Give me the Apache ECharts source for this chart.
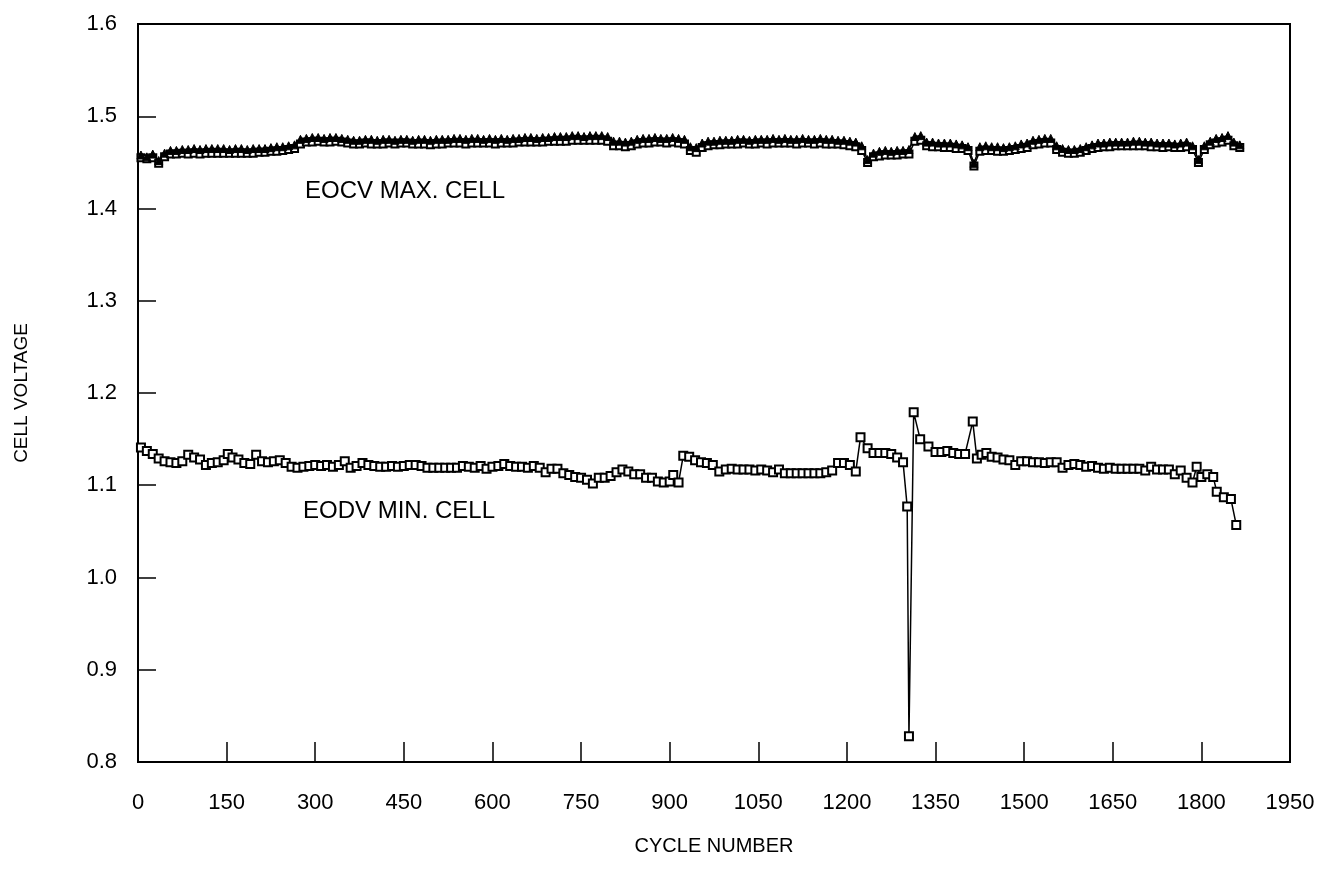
<!DOCTYPE html>
<html>
<head>
<meta charset="utf-8">
<title>Cell voltage vs cycle number</title>
<script src="https://cdn.jsdelivr.net/npm/echarts@6/dist/echarts.min.js"></script>
<style>
  html, body { margin: 0; padding: 0; background: #fff; }
  #chart { width: 1320px; height: 878px; }
</style>
</head>
<body>
<div id="chart"></div>
<script>
// 电压-循环次数图
// top band: EOCV (triangles = max cell, squares just under it)
// bottom: EODV min cell (squares)

var xTicks = [0, 150, 300, 450, 600, 750, 900, 1050, 1200, 1350, 1500, 1650, 1800, 1950];
var yTicks = [0.8, 0.9, 1.0, 1.1, 1.2, 1.3, 1.4, 1.5, 1.6];

var topCycles = [
    5, 15, 25, 35, 45, 55, 65, 75, 85, 95,
    105, 115, 125, 135, 145, 155, 165, 175, 185, 195,
    205, 215, 225, 235, 245, 255, 265, 275, 285, 295,
    305, 315, 325, 335, 345, 355, 365, 375, 385, 395,
    405, 415, 425, 435, 445, 455, 465, 475, 485, 495,
    505, 515, 525, 535, 545, 555, 565, 575, 585, 595,
    605, 615, 625, 635, 645, 655, 665, 675, 685, 695,
    705, 715, 725, 735, 745, 755, 765, 775, 785, 795,
    805, 815, 825, 835, 845, 855, 865, 875, 885, 895,
    905, 915, 925, 935, 945, 955, 965, 975, 985, 995,
    1005, 1015, 1025, 1035, 1045, 1055, 1065, 1075, 1085, 1095,
    1105, 1115, 1125, 1135, 1145, 1155, 1165, 1175, 1185, 1195,
    1205, 1215, 1225, 1235, 1245, 1255, 1265, 1275, 1285, 1295,
    1305, 1315, 1325, 1335, 1345, 1355, 1365, 1375, 1385, 1395,
    1405, 1415, 1425, 1435, 1445, 1455, 1465, 1475, 1485, 1495,
    1505, 1515, 1525, 1535, 1545, 1555, 1565, 1575, 1585, 1595,
    1605, 1615, 1625, 1635, 1645, 1655, 1665, 1675, 1685, 1695,
    1705, 1715, 1725, 1735, 1745, 1755, 1765, 1775, 1785, 1795,
    1805, 1815, 1825, 1835, 1845, 1855, 1865
];

// EOCV max cell (triangles)
var eocvMax = [
    1.458, 1.456, 1.459, 1.452, 1.460, 1.463, 1.463, 1.464, 1.464, 1.465,
    1.464, 1.465, 1.465, 1.465, 1.465, 1.464, 1.465, 1.465, 1.464, 1.465,
    1.465, 1.465, 1.466, 1.467, 1.467, 1.468, 1.469, 1.475, 1.476, 1.477,
    1.477, 1.476, 1.477, 1.477, 1.476, 1.475, 1.474, 1.474, 1.475, 1.475,
    1.474, 1.475, 1.475, 1.474, 1.475, 1.475, 1.474, 1.475, 1.475, 1.474,
    1.475, 1.475, 1.475, 1.476, 1.476, 1.475, 1.476, 1.476, 1.475, 1.476,
    1.475, 1.476, 1.475, 1.476, 1.476, 1.477, 1.477, 1.476, 1.477, 1.477,
    1.478, 1.478, 1.478, 1.479, 1.479, 1.478, 1.479, 1.479, 1.479, 1.478,
    1.473, 1.473, 1.472, 1.473, 1.475, 1.476, 1.476, 1.477, 1.476, 1.476,
    1.477, 1.476, 1.475, 1.467, 1.466, 1.471, 1.473, 1.473, 1.474, 1.474,
    1.474, 1.475, 1.475, 1.474, 1.475, 1.475, 1.475, 1.476, 1.475, 1.476,
    1.475, 1.475, 1.476, 1.475, 1.475, 1.476, 1.475, 1.475, 1.474, 1.474,
    1.473, 1.472, 1.468, 1.453, 1.460, 1.462, 1.463, 1.462, 1.463, 1.463,
    1.464, 1.478, 1.479, 1.472, 1.472, 1.471, 1.471, 1.471, 1.470, 1.469,
    1.467, 1.449, 1.467, 1.468, 1.467, 1.467, 1.466, 1.467, 1.468, 1.470,
    1.471, 1.474, 1.475, 1.476, 1.476, 1.468, 1.465, 1.464, 1.464, 1.465,
    1.467, 1.469, 1.471, 1.471, 1.472, 1.472, 1.472, 1.472, 1.473, 1.473,
    1.472, 1.472, 1.471, 1.471, 1.471, 1.470, 1.471, 1.472, 1.468, 1.453,
    1.468, 1.473, 1.476, 1.477, 1.479, 1.472, 1.469
];

// EOCV squares drawn just under the triangles
var eocvLow = [
    1.455, 1.454, 1.455, 1.449, 1.456, 1.459, 1.459, 1.460, 1.459, 1.460,
    1.459, 1.460, 1.460, 1.460, 1.460, 1.460, 1.460, 1.460, 1.460, 1.460,
    1.461, 1.461, 1.462, 1.462, 1.463, 1.464, 1.465, 1.470, 1.472, 1.472,
    1.473, 1.472, 1.472, 1.473, 1.472, 1.471, 1.470, 1.470, 1.471, 1.470,
    1.470, 1.470, 1.471, 1.470, 1.471, 1.471, 1.470, 1.470, 1.470, 1.469,
    1.470, 1.470, 1.471, 1.471, 1.471, 1.470, 1.471, 1.471, 1.471, 1.471,
    1.470, 1.471, 1.471, 1.471, 1.472, 1.472, 1.472, 1.472, 1.472, 1.473,
    1.473, 1.473, 1.473, 1.474, 1.474, 1.474, 1.474, 1.474, 1.474, 1.473,
    1.468, 1.468, 1.467, 1.468, 1.470, 1.471, 1.471, 1.472, 1.472, 1.471,
    1.472, 1.471, 1.470, 1.463, 1.461, 1.466, 1.468, 1.469, 1.469, 1.470,
    1.470, 1.470, 1.471, 1.470, 1.470, 1.471, 1.470, 1.471, 1.471, 1.471,
    1.471, 1.470, 1.471, 1.471, 1.470, 1.471, 1.470, 1.470, 1.470, 1.469,
    1.468, 1.467, 1.463, 1.450, 1.456, 1.457, 1.458, 1.458, 1.458, 1.459,
    1.459, 1.473, 1.474, 1.468, 1.467, 1.467, 1.466, 1.466, 1.465, 1.465,
    1.463, 1.446, 1.462, 1.463, 1.463, 1.462, 1.462, 1.463, 1.464, 1.465,
    1.466, 1.469, 1.470, 1.471, 1.471, 1.464, 1.461, 1.460, 1.460, 1.461,
    1.463, 1.465, 1.466, 1.467, 1.467, 1.468, 1.468, 1.468, 1.468, 1.468,
    1.468, 1.467, 1.467, 1.466, 1.467, 1.466, 1.466, 1.467, 1.464, 1.450,
    1.464, 1.469, 1.471, 1.472, 1.474, 1.468, 1.466
];

// EODV min cell
var minCycles = [
    5, 15, 25, 35, 45, 55, 65, 75, 85, 95,
    105, 115, 125, 135, 145, 152, 160, 170, 180, 190,
    200, 210, 220, 230, 240, 250, 260, 270, 280, 290,
    300, 310, 320, 330, 340, 350, 360, 370, 380, 390,
    400, 410, 420, 430, 440, 450, 460, 470, 480, 490,
    500, 510, 520, 530, 540, 550, 560, 570, 580, 590,
    600, 610, 620, 630, 640, 650, 660, 670, 680, 690,
    700, 710, 720, 730, 740, 750, 760, 770, 780, 790,
    800, 810, 820, 830, 840, 850, 860, 870, 880, 890,
    900, 906, 915, 923, 933, 943, 953, 963, 973, 984,
    995, 1005, 1015, 1025, 1035, 1045, 1055, 1065, 1075, 1085,
    1095, 1105, 1115, 1125, 1135, 1145, 1155, 1165, 1175, 1185,
    1195, 1205, 1215, 1223, 1235, 1245, 1255, 1265, 1275, 1285,
    1295, 1302, 1305, 1313, 1324, 1338, 1350, 1360, 1370, 1380,
    1390, 1400, 1413, 1420, 1428, 1436, 1445, 1455, 1465, 1475,
    1485, 1495, 1505, 1515, 1525, 1535, 1545, 1555, 1565, 1575,
    1585, 1595, 1605, 1615, 1625, 1635, 1645, 1655, 1665, 1675,
    1685, 1695, 1705, 1715, 1725, 1735, 1745, 1755, 1765, 1775,
    1785, 1792, 1800, 1810, 1820, 1826, 1838, 1850, 1859
];
var minVolts = [
    1.141, 1.137, 1.134, 1.129, 1.126, 1.125, 1.124, 1.126, 1.133, 1.130,
    1.128, 1.122, 1.124, 1.125, 1.127, 1.134, 1.130, 1.128, 1.124, 1.123,
    1.133, 1.126, 1.125, 1.126, 1.127, 1.124, 1.120, 1.119, 1.120, 1.121,
    1.122, 1.121, 1.122, 1.120, 1.122, 1.126, 1.119, 1.121, 1.124, 1.122,
    1.121, 1.120, 1.120, 1.121, 1.120, 1.121, 1.122, 1.122, 1.121, 1.119,
    1.119, 1.119, 1.119, 1.119, 1.119, 1.121, 1.120, 1.119, 1.121, 1.118,
    1.120, 1.121, 1.123, 1.121, 1.120, 1.120, 1.119, 1.121, 1.119, 1.114,
    1.118, 1.118, 1.113, 1.111, 1.109, 1.108, 1.106, 1.102, 1.108, 1.108,
    1.110, 1.114, 1.117, 1.115, 1.112, 1.112, 1.108, 1.108, 1.104, 1.103,
    1.104, 1.111, 1.103, 1.132, 1.131, 1.127, 1.125, 1.124, 1.122, 1.115,
    1.117, 1.118, 1.117, 1.117, 1.117, 1.116, 1.117, 1.116, 1.114, 1.117,
    1.113, 1.113, 1.113, 1.113, 1.113, 1.113, 1.113, 1.114, 1.116, 1.124,
    1.124, 1.122, 1.115, 1.152, 1.140, 1.135, 1.135, 1.135, 1.134, 1.130,
    1.125, 1.077, 0.828, 1.179, 1.150, 1.142, 1.136, 1.136, 1.137, 1.135,
    1.134, 1.134, 1.169, 1.129, 1.133, 1.135, 1.131, 1.130, 1.128, 1.127,
    1.122, 1.126, 1.126, 1.125, 1.125, 1.124, 1.125, 1.125, 1.119, 1.122,
    1.123, 1.122, 1.120, 1.121, 1.119, 1.118, 1.119, 1.118, 1.118, 1.118,
    1.118, 1.118, 1.116, 1.120, 1.117, 1.117, 1.117, 1.112, 1.116, 1.108,
    1.103, 1.120, 1.109, 1.112, 1.109, 1.093, 1.087, 1.085, 1.057
];

function pairs(xs, ys) {
    var out = [];
    for (var i = 0; i < xs.length; i++) {
        out.push([xs[i], ys[i]]);
    }
    return out;
}

var font = "'Liberation Sans', Arial, sans-serif";
var chart = echarts.init(document.getElementById('chart'), null, { renderer: 'canvas' });

chart.setOption({
    animation: false,
    backgroundColor: '#fff',
    grid: {
        left: 138,
        top: 24,
        right: 30,
        bottom: 116,
        outerBoundsMode: 'none',
        containLabel: false,
        show: true,
        borderColor: '#000',
        borderWidth: 2,
        backgroundColor: 'transparent'
    },
    xAxis: {
        type: 'value',
        min: xTicks[0],
        max: xTicks[xTicks.length - 1],
        interval: 150,
        name: 'CYCLE NUMBER',
        nameLocation: 'middle',
        nameGap: 74,
        nameTextStyle: { color: '#000', fontSize: 20, fontFamily: font },
        axisLine: { show: true, onZero: false, lineStyle: { color: '#000', width: 2 } },
        axisTick: { show: true, inside: true, length: 20, lineStyle: { color: '#000', width: 1.5 } },
        axisLabel: {
            color: '#000', fontSize: 22, fontFamily: font, margin: 30,
            formatter: function (v) { return String(v); }
        },
        splitLine: { show: false }
    },
    yAxis: {
        type: 'value',
        min: yTicks[0],
        max: yTicks[yTicks.length - 1],
        interval: 0.1,
        name: 'CELL VOLTAGE',
        nameLocation: 'middle',
        nameGap: 107,
        nameRotate: 90,
        nameTextStyle: { color: '#000', fontSize: 19, fontFamily: font },
        axisLine: { show: true, onZero: false, lineStyle: { color: '#000', width: 2 } },
        axisTick: { show: true, inside: true, length: 18, lineStyle: { color: '#000', width: 1.5 } },
        axisLabel: {
            color: '#000', fontSize: 22, fontFamily: font, margin: 21,
            formatter: function (v) { return v.toFixed(1); }
        },
        splitLine: { show: false }
    },
    graphic: [
        {
            type: 'text', left: 305, top: 179,
            style: { text: 'EOCV MAX. CELL', fill: '#000', fontSize: 24, fontFamily: font }
        },
        {
            type: 'text', left: 303, top: 499,
            style: { text: 'EODV MIN. CELL', fill: '#000', fontSize: 24, fontFamily: font }
        }
    ],
    series: [
        {
            name: 'EODV MIN. CELL',
            type: 'line',
            data: pairs(minCycles, minVolts),
            symbol: 'rect',
            symbolSize: 8,
            showAllSymbol: true,
            lineStyle: { color: '#000', width: 1.5 },
            itemStyle: { color: '#fff', borderColor: '#000', borderWidth: 2 }
        },
        {
            name: 'EOCV squares',
            type: 'line',
            data: pairs(topCycles, eocvLow),
            symbol: 'rect',
            symbolSize: 7,
            showAllSymbol: true,
            lineStyle: { color: '#000', width: 1.5 },
            itemStyle: { color: '#fff', borderColor: '#000', borderWidth: 2 }
        },
        {
            name: 'EOCV MAX. CELL',
            type: 'line',
            data: pairs(topCycles, eocvMax),
            symbol: 'triangle',
            symbolSize: 8,
            showAllSymbol: true,
            lineStyle: { color: '#000', width: 1.5 },
            itemStyle: { color: '#000', borderColor: '#000', borderWidth: 1 }
        }
    ]
});
</script>
</body>
</html>
